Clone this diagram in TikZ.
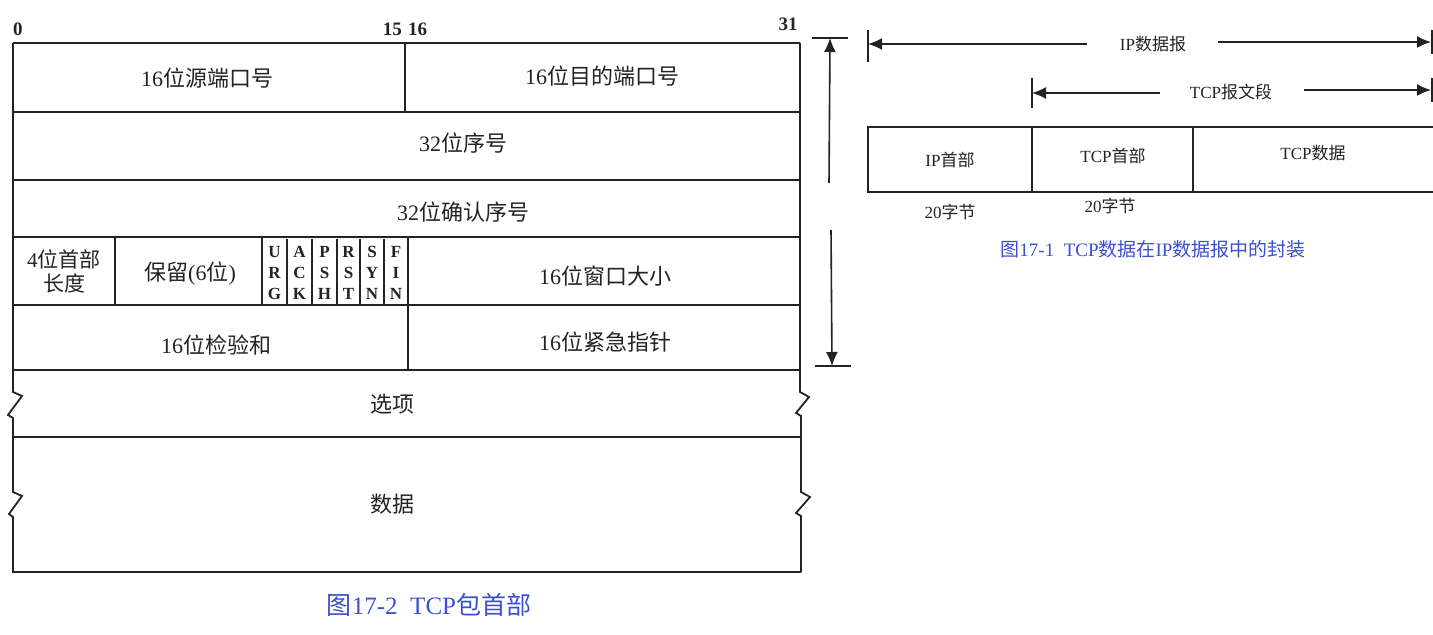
\documentclass[tikz,border=0pt]{standalone}
\usepackage{fontspec}
\setmainfont{Liberation Serif}
\newfontfamily\cjk{Noto Sans CJK SC}
\usetikzlibrary{arrows.meta}
\definecolor{ink}{RGB}{35,35,35}
\definecolor{capblue}{RGB}{60,80,205}
\newcommand\zh[1]{{\cjk #1}}
\begin{document}
\begin{tikzpicture}[x=0.5pt,y=-0.5pt,
  frame/.style={draw=ink,line width=0.9pt,line join=miter},
  field/.style={text=ink,font=\fontsize{11}{13}\selectfont,inner sep=0pt},
  bitnum/.style={text=ink,font=\fontsize{9.5}{11}\selectfont\bfseries,inner sep=0pt,anchor=base},
  flag/.style={text=ink,font=\fontsize{8.5}{10.6}\selectfont\bfseries,inner sep=0pt,align=center},
  small/.style={text=ink,font=\fontsize{8.5}{10}\selectfont,inner sep=0pt},
  dimarrow/.style={draw=ink,line width=0.8pt,-{Latex[length=7pt,width=6pt]}},
  tick/.style={draw=ink,line width=0.9pt},
  caption/.style={text=capblue,inner sep=0pt}]
\fill[white] (0,0) rectangle (1433,635);
\useasboundingbox (0,0) rectangle (1433,635);

% ---------- TCP header (Fig 17-2) ----------
% outline with break marks
\draw[frame] (13,43) -- (800,43);
\draw[frame] (13,43) -- (13,392) -- (22,396) -- (8,415) -- (13,418) -- (13,492) -- (22,496) -- (9,514) -- (13,517) -- (13,572) -- (801,572);
\draw[frame] (800,43) -- (800,392) -- (809,397) -- (796,413) -- (801,416) -- (801,492) -- (810,497) -- (796,513) -- (801,516) -- (801,572);
% row lines
\foreach \y in {112,180,237,305,370,437}
  \draw[frame] (13,\y) -- (800,\y);
% column dividers
\draw[frame] (405,43) -- (405,112);
\draw[frame] (115,237) -- (115,305);
\draw[frame] (262,237) -- (262,305);
\foreach \x in {287,312,337,360,384}
  \draw[frame] (\x,239) -- (\x,305);
\draw[frame] (408,237) -- (408,370);

% bit numbers
\node[bitnum] (b0) at (18,36) {0};
\node[bitnum] (b15) at (405,36) {15\,\,16};
\node[bitnum] (b31) at (788,31) {31};

% field labels
\node[field] (sport) at (207,78) {16\zh{位源端口号}};
\node[field] (dport) at (602,76) {16\zh{位目的端口号}};
\node[field] (seq) at (463,143) {32\zh{位序号}};
\node[field] (ack) at (463,212) {32\zh{位确认序号}};
\node[field,align=center,font=\fontsize{10.5}{12}\selectfont] (hlen) at (64,271) {4\zh{位首部}\\\zh{长度}};
\node[field] (resv) at (190,274) {\zh{保留}(6\zh{位})};
\node[flag] (urg) at (274.5,273) {U\\R\\G};
\node[flag] (ackf) at (299.5,273) {A\\C\\K};
\node[flag] (psh) at (324.5,273) {P\\S\\H};
\node[flag] (rst) at (348.5,273) {R\\S\\T};
\node[flag] (syn) at (372,273) {S\\Y\\N};
\node[flag] (fin) at (396,273) {F\\I\\N};
\node[field] (win) at (605,276) {16\zh{位窗口大小}};
\node[field] (csum) at (216,345) {16\zh{位检验和}};
\node[field] (urgp) at (605,342) {16\zh{位紧急指针}};
\node[field] (opt) at (392,404) {\zh{选项}};
\node[field] (data) at (392,504) {\zh{数据}};

% 20-byte dimension arrow
\coordinate (vt) at (830,38);
\coordinate (vb) at (832,366);
\coordinate (vtm) at (829,183);
\coordinate (vbm) at (831,230);
\draw[tick] (812,38) -- (848,38);
\draw[tick] (815,366) -- (851,366);
\draw[dimarrow] (vtm) -- (vt);
\draw[dimarrow] (vbm) -- (vb);

\node[caption,font=\fontsize{12.5}{14}\selectfont] (cap2) at (429,605) {\zh{图}17-2\ \ TCP\zh{包首部}};

% ---------- Encapsulation (Fig 17-1) ----------
\coordinate (ipL) at (868,44);
\coordinate (ipR) at (1431,42);
\draw[tick] (868,30) -- (868,62);
\draw[tick] (1432,30) -- (1432,54);
\node[small] (iplab) at (1153,44) {IP\zh{数据报}};
\draw[dimarrow] (1087,44) -- (ipL);
\draw[dimarrow] (1218,42) -- (ipR);

\coordinate (tcpL) at (1032,93);
\coordinate (tcpR) at (1431,90);
\draw[tick] (1032,78) -- (1032,108);
\draw[tick] (1432,78) -- (1432,102);
\node[small] (tcplab) at (1231,92) {TCP\zh{报文段}};
\draw[dimarrow] (1160,93) -- (tcpL);
\draw[dimarrow] (1304,90) -- (tcpR);

\draw[frame] (1433,127) -- (868,127) -- (868,192) -- (1433,192);
\draw[frame] (1032,127) -- (1032,192);
\draw[frame] (1193,127) -- (1193,192);
\node[small] (iph) at (950,160) {IP\zh{首部}};
\node[small] (tcph) at (1113,156) {TCP\zh{首部}};
\node[small] (tcpd) at (1313,153) {TCP\zh{数据}};
\node[small] (b20a) at (950,212) {20\zh{字节}};
\node[small] (b20b) at (1110,206) {20\zh{字节}};

\node[caption,font=\fontsize{9.5}{11}\selectfont] (cap1) at (1153,249) {\zh{图}17-1\ \ TCP\zh{数据在}IP\zh{数据报中的封装}};
\end{tikzpicture}
\end{document}
